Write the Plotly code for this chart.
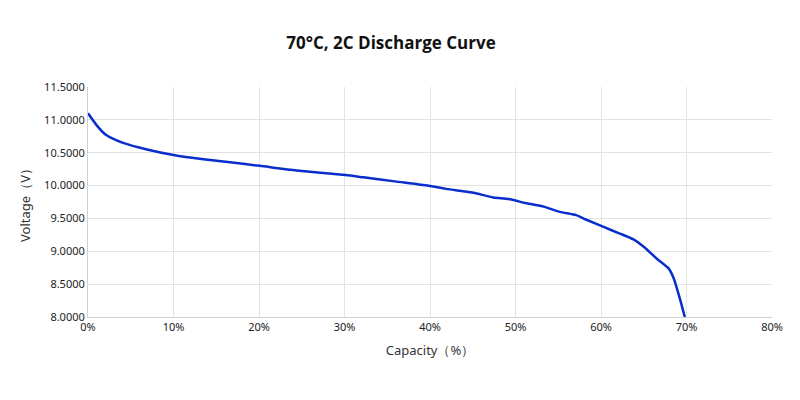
import plotly.graph_objects as go

capacity = [0.0, 1.0, 2.0, 2.6, 4.1, 6.9, 10.0, 13.5, 16.6, 20.1, 24.4, 30.1, 32.2, 36.1,
            40.2, 41.9, 43.5, 45.1, 47.4, 49.2, 51.3, 53.3, 55.2, 57.1, 58.3, 60.3, 62.2,
            63.8, 65.0, 66.5, 67.9, 68.5, 69.2, 69.8]
voltage = [11.10, 10.92, 10.78, 10.735, 10.65, 10.55, 10.465, 10.40, 10.355, 10.30, 10.23,
           10.16, 10.125, 10.06, 9.99, 9.95, 9.92, 9.89, 9.82, 9.795, 9.73, 9.68, 9.60,
           9.55, 9.48, 9.37, 9.27, 9.18, 9.07, 8.89, 8.74, 8.59, 8.29, 8.0]

x_ticks = [0, 10, 20, 30, 40, 50, 60, 70, 80]
y_ticks = [8.0, 8.5, 9.0, 9.5, 10.0, 10.5, 11.0, 11.5]

fig = go.Figure()
fig.add_trace(go.Scatter(x=capacity, y=voltage, mode="lines",
                         line=dict(color="#0a2ecc", width=2.5, shape="spline", smoothing=0.6),
                         showlegend=False, hoverinfo="skip"))

fig.update_layout(
    width=800, height=400,
    margin=dict(l=88, r=28, t=87, b=83),
    paper_bgcolor="white", plot_bgcolor="white",
    title=dict(text="<b>70°C, 2C Discharge Curve</b>", x=391 / 800, xanchor="center",
               y=1 - 43 / 400, yanchor="middle",
               font=dict(family="Open Sans", size=17, color="#111")),
    font=dict(family="Noto Sans", size=11, color="#222"),
)
fig.update_xaxes(range=[0, 80], tickvals=x_ticks, ticktext=[f"{v}%" for v in x_ticks],
                 showgrid=True, gridcolor="#e3e3e3", gridwidth=1,
                 showline=True, linecolor="#d0d0d0", linewidth=1, zeroline=False,
                 ticks="", tickfont=dict(size=11, color="#222"),
                 title=dict(text="Capacity（%）", font=dict(size=13, color="#333"), standoff=12))
fig.update_yaxes(range=[8.0, 11.5], tickvals=y_ticks, tickformat=".4f",
                 showgrid=True, gridcolor="#e3e3e3", gridwidth=1,
                 showline=True, linecolor="#d0d0d0", linewidth=1, zeroline=False,
                 ticks="", tickfont=dict(size=11, color="#222"),
                 title=dict(text="Voltage（V）", font=dict(size=13, color="#333"), standoff=10))

fig.write_html("out.html")
